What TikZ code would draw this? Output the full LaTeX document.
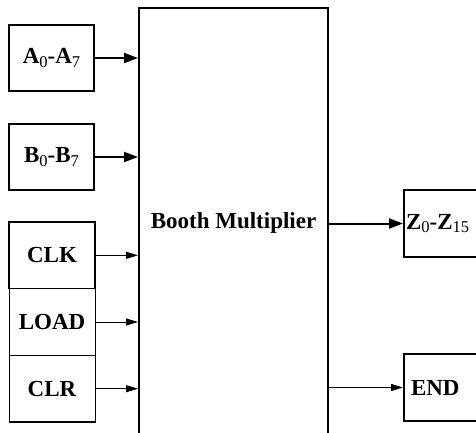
\documentclass[tikz,border=0pt]{standalone}
\usepackage{fontspec}
\setmainfont{Liberation Serif}
\usetikzlibrary{arrows.meta,positioning}
\newcommand{\blockfont}{\fontsize{23}{27}\selectfont\bfseries}
\newcommand{\sub}[1]{\raisebox{-0.3ex}{\fontsize{16.5}{17}\selectfont\mdseries #1}}
\tikzset{
  inbox/.style={draw, line width=2pt, minimum width=85pt, minimum height=66pt, inner sep=0pt, font=\blockfont},
  ctlbox/.style={draw, line width=1pt, minimum width=86pt, minimum height=66.7pt, inner sep=0pt, outer sep=0pt, font=\blockfont},
  mainbox/.style={draw, line width=2pt, minimum width=189pt, minimum height=430pt, inner sep=0pt, font=\blockfont},
  outbox/.style={draw, line width=2pt, minimum height=67pt, text width=84pt, inner xsep=#1, align=left, font=\blockfont},
  bigarrow/.style={line width=2pt, -{Triangle[length=14pt,width=10pt]}},
  smallarrow/.style={line width=1pt, -{Triangle[length=12pt,width=7pt]}},
}
\begin{document}
\begin{tikzpicture}[x=1pt,y=-1pt]
  \useasboundingbox (0,0) rectangle (476,432);
  \clip (0,0) rectangle (476,432);
  \node[mainbox] (mult) at (233.5,223) {Booth Multiplier};
  \node[inbox] (a) at (51.5,58) {A\sub{0}-A\sub{7}};
  \node[inbox] (b) at (51.5,157) {B\sub{0}-B\sub{7}};
  \node[ctlbox] (clk) at (52,255.3) {CLK};
  \node[ctlbox, below=0pt of clk] (load) {LOAD};
  \node[ctlbox, below=0pt of load] (clr) {CLR};
  \draw[line width=2pt] (clk.south west) |- (clk.north east) -- (clk.south east);
  \draw[line width=2pt] (clr.south west) -- (clr.south east);
  \node[outbox=2pt, anchor=west] (z) at (403,223.5) {Z\sub{0}-Z\sub{15}};
  \node[outbox=7pt, anchor=west] (end) at (403,387.5) {END};
  \draw[bigarrow] (a) -- (a -| mult.west);
  \draw[bigarrow] (b) -- (b -| mult.west);
  \draw[smallarrow] (clk) -- (clk -| mult.west);
  \draw[smallarrow] (load) -- (load -| mult.west);
  \draw[smallarrow] (clr) -- (clr -| mult.west);
  \draw[bigarrow] (mult.east |- z) -- (z);
  \draw[smallarrow] (mult.east |- end) -- (end);
\end{tikzpicture}
\end{document}
